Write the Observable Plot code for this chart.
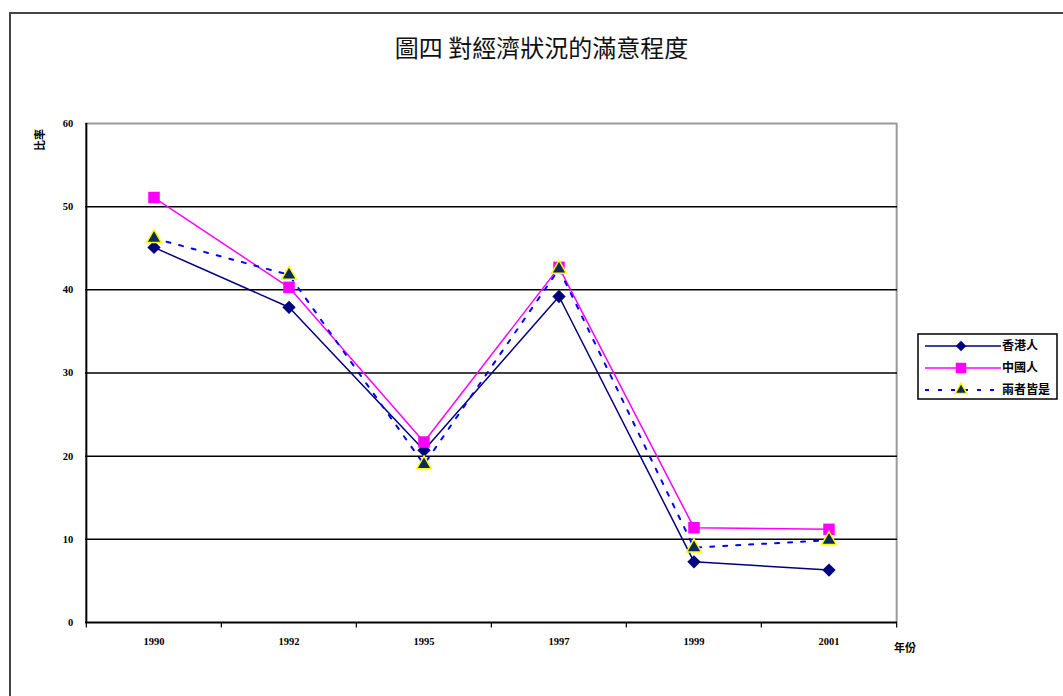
<!DOCTYPE html>
<html>
<head>
<meta charset="utf-8">
<script src="https://cdn.jsdelivr.net/npm/d3@7"></script>
<script src="https://cdn.jsdelivr.net/npm/@observablehq/plot@0.6"></script>
<style>
  html, body { margin: 0; padding: 0; background: #fff; }
  #wrap { position: relative; width: 1063px; height: 696px; overflow: hidden; }
  #wrap svg.chart { position: absolute; left: 0; top: 0; }
  #border { position: absolute; left: 9px; top: 12px; width: 1100px; height: 800px;
            border-left: 2px solid #444; border-top: 2px solid #444; }
  #title { position: absolute; left: 0; width: 1083px; top: 30px; text-align: center;
           font-family: "Noto Sans CJK TC", sans-serif; font-size: 24px; line-height: 34px; color: #111; }
  #legend { position: absolute; left: 917px; top: 333px; }
  .cjk { font-family: "Noto Sans CJK TC", sans-serif; font-weight: bold; }
</style>
</head>
<body>
<div id="wrap">
  <div id="border"></div>
  <div id="title">圖四 對經濟狀況的滿意程度</div>
</div>
<script>
// Survey years (categories)
const years = ["1990", "1992", "1995", "1997", "1999", "2001"];

// Share of respondents satisfied with the economy (%), by self-identity
const hongKongers = [45.1, 37.9, 20.7, 39.2, 7.3, 6.3];
const chinese     = [51.1, 40.3, 21.7, 42.7, 11.4, 11.2];
const both        = [46.2, 41.8, 19.0, 42.5, 9.0, 9.9];

const seriesNames = ["香港人", "中國人", "兩者皆是"];
const yTicks = [0, 10, 20, 30, 40, 50, 60];
const gridValues = [10, 20, 30, 40, 50];

const rows = (name, vals) => years.map((y, i) => ({year: y, value: vals[i], series: name}));
const hk = rows(seriesNames[0], hongKongers);
const cn = rows(seriesNames[1], chinese);
const bo = rows(seriesNames[2], both);

const W = 1063, H = 696;
const mL = 85, mR = 166, mT = 123, mB = 74;
const bw = (W - mL - mR) / years.length;

const tickFont = {fontFamily: "Liberation Serif", fontWeight: "bold", fontSize: 10.5};

const chart = Plot.plot({
  width: W,
  height: H,
  marginLeft: mL, marginRight: mR, marginTop: mT, marginBottom: mB,
  style: {background: "transparent", overflow: "visible"},
  x: {type: "band", domain: years, padding: 0, axis: null},
  y: {domain: [0, 60], axis: null},
  marks: [
    // frame: grey top/right, black left/bottom
    Plot.ruleY([60], {stroke: "#9a9a9a", strokeWidth: 2}),
    Plot.ruleX([years[years.length - 1]], {y1: 0, y2: 60, dx: bw / 2, stroke: "#9a9a9a", strokeWidth: 2}),
    Plot.ruleY(gridValues, {stroke: "#000", strokeWidth: 1.5}),
    Plot.ruleY([0], {stroke: "#000", strokeWidth: 2}),
    Plot.ruleX([years[0]], {y1: 0, y2: 60, dx: -bw / 2, stroke: "#000", strokeWidth: 2}),
    // x tick marks at category boundaries
    Plot.ruleX(years, {y1: 0, y2: -0.65, dx: -bw / 2, stroke: "#000", strokeWidth: 1.2}),
    Plot.ruleX([years[years.length - 1]], {y1: 0, y2: -0.65, dx: bw / 2, stroke: "#000", strokeWidth: 1.2}),
    // tick labels
    Plot.text(years, {x: d => d, y: 0, dy: 19, text: d => d, ...tickFont, fill: "#000"}),
    Plot.text(yTicks, {x: () => years[0], y: d => d, dx: -bw / 2 - 13, textAnchor: "end", text: d => String(d), ...tickFont, fill: "#000"}),
    // series lines
    Plot.line(hk, {x: "year", y: "value", stroke: "#000080", strokeWidth: 1.5}),
    Plot.line(cn, {x: "year", y: "value", stroke: "#ff00ff", strokeWidth: 1.5}),
    Plot.line(bo, {x: "year", y: "value", stroke: "#0000ff", strokeWidth: 2, strokeDasharray: "4,9"}),
    // markers
    Plot.dot(hk, {x: "year", y: "value", symbol: "diamond2", r: 6, fill: "#000080", stroke: "none"}),
    Plot.dot(cn, {x: "year", y: "value", symbol: "square", r: 6.5, fill: "#ff00ff", stroke: "none"}),
    Plot.dot(bo, {x: "year", y: "value", symbol: "triangle", r: 5.5, fill: "#0b2a5e", stroke: "#ffff00", strokeWidth: 1.5})
  ]
});
chart.classList.add("chart");

const svg = d3.select(chart);
// axis titles
svg.append("text")
  .attr("x", 905).attr("y", 652)
  .attr("class", "cjk").attr("font-size", 11).attr("text-anchor", "middle")
  .text("年份");
svg.append("text")
  .attr("transform", "translate(44,140) rotate(-90)")
  .attr("class", "cjk").attr("font-size", 11).attr("text-anchor", "middle")
  .text("比率");

document.getElementById("wrap").appendChild(chart);

// legend
const leg = d3.select("#wrap").append("svg")
  .attr("id", "legend").attr("width", 142).attr("height", 68);
leg.append("rect").attr("x", 1).attr("y", 1).attr("width", 139).attr("height", 65)
  .attr("fill", "#fff").attr("stroke", "#000").attr("stroke-width", 1.5);
const styles = [
  {stroke: "#000080", dash: null, sym: d3.symbolDiamond2, fill: "#000080", sstroke: "none", size: 70},
  {stroke: "#ff00ff", dash: null, sym: d3.symbolSquare, fill: "#ff00ff", sstroke: "none", size: 110},
  {stroke: "#0000ff", dash: "4,9", sym: d3.symbolTriangle, fill: "#0b2a5e", sstroke: "#ffff00", size: 60}
];
seriesNames.forEach((name, i) => {
  const y = 13 + i * 22;
  const s = styles[i];
  leg.append("line").attr("x1", 8).attr("x2", 84).attr("y1", y).attr("y2", y)
    .attr("stroke", s.stroke).attr("stroke-width", s.dash ? 2 : 1.5)
    .attr("stroke-dasharray", s.dash);
  leg.append("path").attr("d", d3.symbol(s.sym, s.size)())
    .attr("transform", `translate(44,${y})`)
    .attr("fill", s.fill).attr("stroke", s.sstroke).attr("stroke-width", 1.5);
  leg.append("text").attr("x", 85).attr("y", y + 4)
    .attr("class", "cjk").attr("font-size", 12).text(name);
});
</script>
</body>
</html>
